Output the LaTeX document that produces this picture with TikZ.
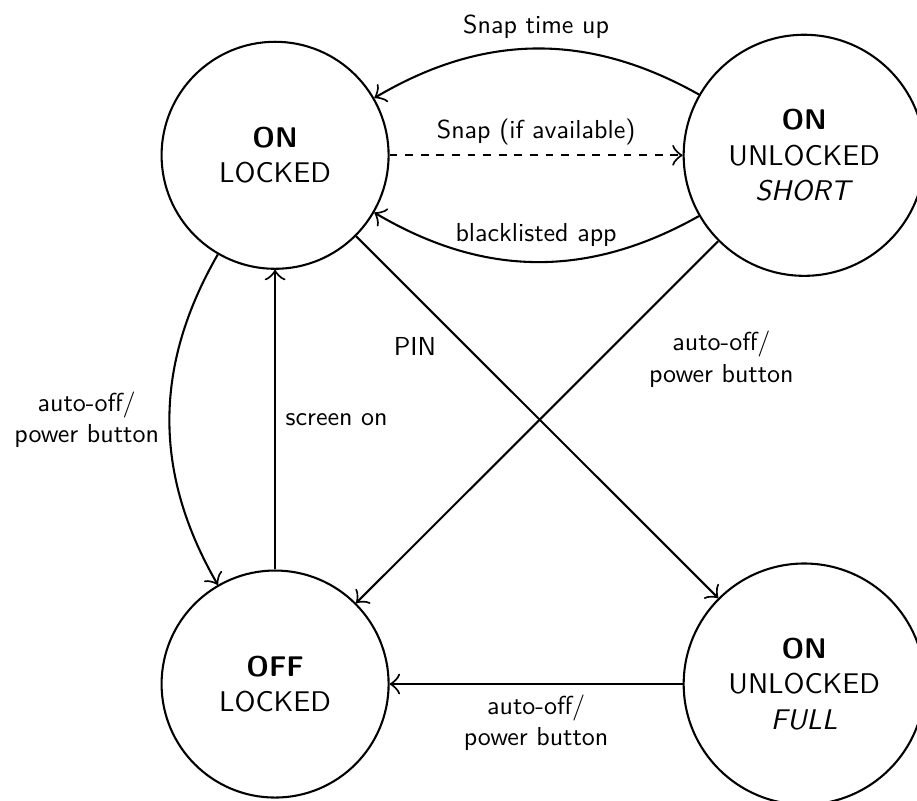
\documentclass[tikz,border=0pt,11pt]{standalone}
\usetikzlibrary{arrows.meta}

\begin{document}
\begin{tikzpicture}[
    font=\sffamily,
    >={Classical TikZ Rightarrow[length=4pt,width=8pt]},
    state/.style={circle,draw,thick,align=center,minimum size=3.07cm,inner sep=2pt},
    widestate/.style={state,minimum size=3.26cm},
    line/.style={thick,->},
    lbl/.style={font=\sffamily\small,align=center}
]
\useasboundingbox (-3.72,-8.73) rectangle (8.68,2.10);

% States
\node[state] (onlock) at (0,0) {\textbf{ON}\\LOCKED};
\node[widestate] (onshort) at (7.155,0) {\textbf{ON}\\UNLOCKED\\\textit{SHORT}};
\node[state] (offlock) at (0,-7.15) {\textbf{OFF}\\LOCKED};
\node[widestate] (onfull) at (7.155,-7.15) {\textbf{ON}\\UNLOCKED\\\textit{FULL}};

% Between the two upper states
\draw[line] (onshort) to[bend right=30] node[lbl,above] {Snap time up} (onlock);
\draw[line,dashed] (onlock) -- node[lbl,above] {Snap (if available)} (onshort);
\draw[line] (onshort) to[bend left=30] node[lbl,above=2pt] {blacklisted app} (onlock);

% Diagonals
\draw[line] (onlock) -- node[lbl,near start,below left] {PIN} (onfull);
\draw[line] (onshort) -- node[lbl,pos=0.22,below right] {auto-off/\\power button} (offlock);

% Screen off and on
\draw[line] (onlock) to[bend right=30] node[lbl,left] {auto-off/\\power button} (offlock);
\draw[line] (offlock) -- node[lbl,right] {screen on} (onlock);
\draw[line] (onfull) -- node[lbl,below] {auto-off/\\power button} (offlock);

\end{tikzpicture}
\end{document}
